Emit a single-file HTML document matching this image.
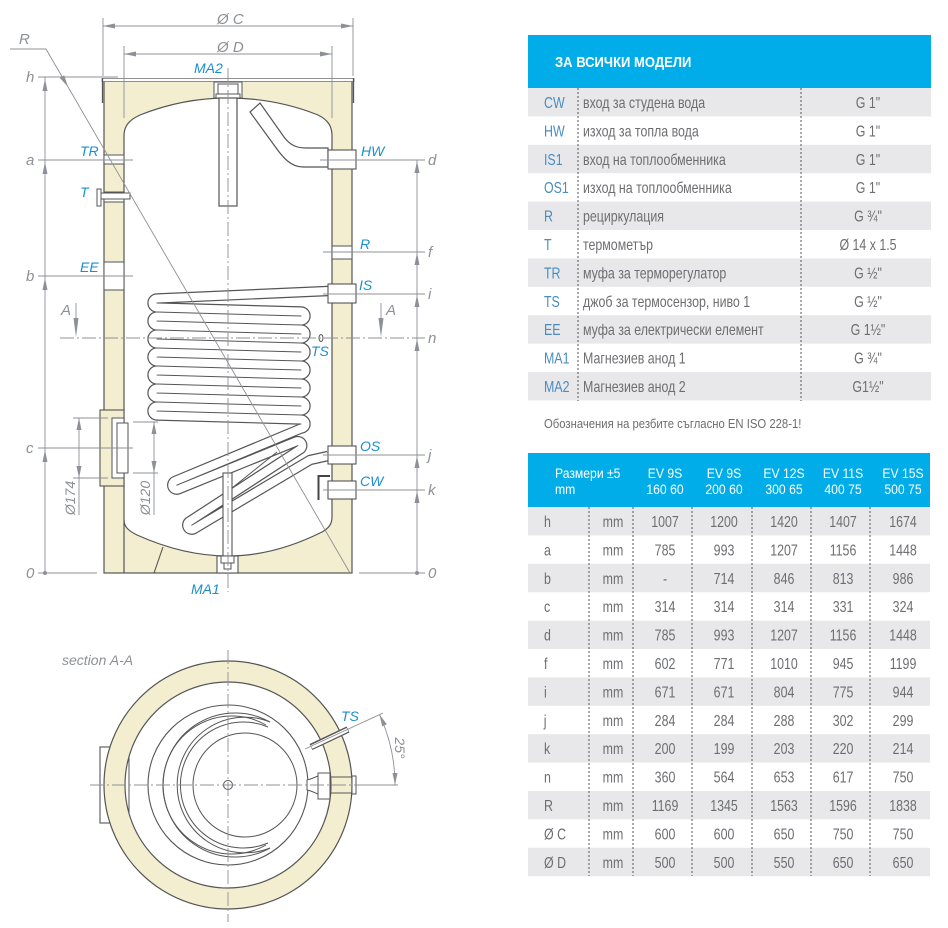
<!DOCTYPE html>
<html><head><meta charset="utf-8"><style>
html,body{margin:0;padding:0;background:#fff;}
svg{display:block;}
.lbl{font-family:"Liberation Sans",sans-serif;font-style:italic;font-size:14px;fill:#1a8fd0;}
.dim{font-family:"Liberation Sans",sans-serif;font-style:italic;font-size:15px;fill:#8d9096;}
.t{font-family:"Liberation Sans Narrow","Liberation Sans",sans-serif;font-size:15.5px;fill:#6d6e71;}
.c{font-family:"Liberation Sans Narrow","Liberation Sans",sans-serif;font-size:15.5px;fill:#4a8cc0;}
.h{font-family:"Liberation Sans Narrow","Liberation Sans",sans-serif;font-size:14px;fill:#fff;}
.sx text, text.sx{transform-box:fill-box;transform-origin:0 50%;transform:scaleX(.87);}
.sxm text{transform-box:fill-box;transform-origin:50% 50%;transform:scaleX(.87);}
.sx2 text{transform-box:fill-box;transform-origin:0 50%;transform:scaleX(.8);}
.sxm2 text{transform-box:fill-box;transform-origin:50% 50%;transform:scaleX(.8);}
</style></head><body>
<svg width="948" height="928" viewBox="0 0 948 928" xmlns="http://www.w3.org/2000/svg">
<!-- ================= FRONT VIEW ================= -->
<g stroke-linecap="butt">
<rect x="104" y="81" width="248" height="492" fill="#f3eed0" stroke="#555" stroke-width="1.2"/>
<rect x="102" y="78.5" width="252" height="3" fill="#fff" stroke="#777" stroke-width="0.8"/>
<line x1="102.5" y1="78" x2="102.5" y2="103" stroke="#555" stroke-width="1.3"/>
<line x1="353.5" y1="78" x2="353.5" y2="103" stroke="#555" stroke-width="1.3"/>
<path d="M124 520 L124 136 C124 126 129 120 140 115 C170 103 200 98 228 98 C256 98 288 103 318 115 C328 120 332 126 332 136 L332 517 C332 524 329 528 322 532 C292 547 260 556 228 556 C196 556 166 548 137 535 C129 531 124 527 124 520 Z" fill="#fff" stroke="#555" stroke-width="1.2"/>
<line x1="124" y1="520" x2="124" y2="573" stroke="#555" stroke-width="1.2"/>
<line x1="163" y1="547" x2="154" y2="573" stroke="#555" stroke-width="1.1"/>
<rect x="214" y="82" width="28" height="16" fill="#fff" stroke="#555" stroke-width="1"/>
<rect x="218" y="84" width="20" height="10" fill="#fff" stroke="#555" stroke-width="1"/>
<rect x="216" y="94" width="24" height="4" fill="#fff" stroke="#555" stroke-width="1"/>
<rect x="219" y="98" width="18" height="108" fill="#fff" stroke="#555" stroke-width="1.2"/>
<path d="M328 148 L306 148 C296 148 290 145 284 137 L260 103 L250 112 L274 145 C283 158 291 167 303 167 L328 167 Z" fill="#fff" stroke="#555" stroke-width="1.2"/>
<path d="M328 291 L157 298.5 A4.5 4.5 0 0 0 157 307.5 L301 311.5 A4.5 4.5 0 0 1 301 320.5 L157 316.5 A4.5 4.5 0 0 0 157 325.5 L301 329.5 A4.5 4.5 0 0 1 301 338.5 L157 334.5 A4.5 4.5 0 0 0 157 343.5 L301 347.5 A4.5 4.5 0 0 1 301 356.5 L157 352.5 A4.5 4.5 0 0 0 157 361.5 L301 365.5 A4.5 4.5 0 0 1 301 374.5 L157 370.5 A4.5 4.5 0 0 0 157 379.5 L301 383.5 A4.5 4.5 0 0 1 301 392.5 L157 388.5 A4.5 4.5 0 0 0 157 397.5 L301 401.5 A4.5 4.5 0 0 1 301 410.5 L157 406.5 A4.5 4.5 0 0 0 157 415.5 L301 419.5 A4.5 4.5 0 0 1 301 428.5 L175 481 A4.5 4.5 0 0 0 178.5 489.3 L296 441.5 A4.5 4.5 0 0 1 299.5 449.8 L190 521 A4.5 4.5 0 0 0 193.5 529.3 L310 460 L328 456" fill="none" stroke="#555" stroke-width="10.4" stroke-linejoin="round"/>
<path d="M328 291 L157 298.5 A4.5 4.5 0 0 0 157 307.5 L301 311.5 A4.5 4.5 0 0 1 301 320.5 L157 316.5 A4.5 4.5 0 0 0 157 325.5 L301 329.5 A4.5 4.5 0 0 1 301 338.5 L157 334.5 A4.5 4.5 0 0 0 157 343.5 L301 347.5 A4.5 4.5 0 0 1 301 356.5 L157 352.5 A4.5 4.5 0 0 0 157 361.5 L301 365.5 A4.5 4.5 0 0 1 301 374.5 L157 370.5 A4.5 4.5 0 0 0 157 379.5 L301 383.5 A4.5 4.5 0 0 1 301 392.5 L157 388.5 A4.5 4.5 0 0 0 157 397.5 L301 401.5 A4.5 4.5 0 0 1 301 410.5 L157 406.5 A4.5 4.5 0 0 0 157 415.5 L301 419.5 A4.5 4.5 0 0 1 301 428.5 L175 481 A4.5 4.5 0 0 0 178.5 489.3 L296 441.5 A4.5 4.5 0 0 1 299.5 449.8 L190 521 A4.5 4.5 0 0 0 193.5 529.3 L310 460 L328 456" fill="none" stroke="#fff" stroke-width="8" stroke-linejoin="round"/>
<line x1="277" y1="452" x2="232" y2="488" stroke="#555" stroke-width="1"/>
<rect x="223" y="473" width="9" height="83" fill="#fff" stroke="#555" stroke-width="1.1"/>
<rect x="217" y="556" width="21" height="17" fill="#fff" stroke="#555" stroke-width="1.1"/>
<rect x="221" y="556" width="13" height="7" fill="#fff" stroke="#555" stroke-width="1"/>
<rect x="224" y="563" width="7" height="6" fill="#fff" stroke="#555" stroke-width="1"/>
<rect x="104" y="155" width="20" height="9" fill="#fff" stroke="#555" stroke-width="1"/>
<rect x="104" y="192" width="20" height="10" fill="#fff" stroke="#555" stroke-width="1"/>
<rect x="101" y="193" width="29" height="6" fill="#fff" stroke="#555" stroke-width="1"/>
<rect x="97" y="189" width="4" height="17" fill="#fff" stroke="#555" stroke-width="1"/>
<rect x="104" y="262" width="20" height="28" fill="#fff" stroke="#555" stroke-width="1"/>
<rect x="100" y="410" width="24" height="76" fill="#f3eed0" stroke="#555" stroke-width="1.1"/>
<rect x="112" y="418" width="12" height="60" fill="#fff" stroke="#555" stroke-width="1"/>
<rect x="117" y="423" width="11" height="50" fill="#fff" stroke="#555" stroke-width="1"/>
<rect x="328" y="150" width="28" height="19" fill="#fff" stroke="#555" stroke-width="1.1"/>
<rect x="332" y="246" width="20" height="13" fill="#fff" stroke="#555" stroke-width="1"/>
<rect x="328" y="284" width="28" height="19" fill="#fff" stroke="#555" stroke-width="1.1"/>
<rect x="328" y="446" width="28" height="18" fill="#fff" stroke="#555" stroke-width="1.1"/>
<rect x="328" y="481" width="28" height="18" fill="#fff" stroke="#555" stroke-width="1.1"/>
<path d="M330 476 L318.5 476 L318.5 500" fill="none" stroke="#444" stroke-width="2"/>
<ellipse cx="321" cy="338" rx="2" ry="3.5" fill="#fff" stroke="#555" stroke-width="1"/>
</g>

<g stroke="#8d9096" stroke-width="0.9" fill="none">
<line x1="103" y1="18" x2="103" y2="76"/>
<line x1="353" y1="18" x2="353" y2="76"/>
<line x1="103" y1="26" x2="353" y2="26"/>
<line x1="124" y1="46" x2="124" y2="118"/>
<line x1="332" y1="46" x2="332" y2="118"/>
<line x1="124" y1="54" x2="332" y2="54"/>
<polyline points="10,49 46,49 350,573"/>
<line x1="45" y1="77" x2="45" y2="573"/>
<line x1="417" y1="160" x2="417" y2="573"/>
<line x1="38" y1="77" x2="118" y2="77"/>
<line x1="38" y1="160" x2="133" y2="160"/>
<line x1="38" y1="276" x2="133" y2="276"/>
<line x1="38" y1="448" x2="133" y2="448"/>
<line x1="38" y1="573" x2="97" y2="573"/>
<line x1="320" y1="160" x2="425" y2="160"/>
<line x1="323" y1="252" x2="425" y2="252"/>
<line x1="323" y1="294" x2="425" y2="294"/>
<line x1="323" y1="455" x2="425" y2="455"/>
<line x1="323" y1="490" x2="425" y2="490"/>
<line x1="359" y1="573" x2="425" y2="573"/>
<line x1="60" y1="338" x2="425" y2="338" stroke-dasharray="14 3 2 3"/>
<line x1="228" y1="68" x2="228" y2="592" stroke-dasharray="14 3 2 3"/>
<line x1="76" y1="303" x2="76" y2="325"/>
<line x1="381" y1="303" x2="381" y2="325"/>
<line x1="73" y1="418" x2="108" y2="418"/>
<line x1="73" y1="478" x2="108" y2="478"/>
<line x1="79" y1="418" x2="79" y2="515"/>
<line x1="133" y1="422" x2="158" y2="422"/>
<line x1="133" y1="473" x2="158" y2="473"/>
<line x1="154" y1="422" x2="154" y2="515"/>
</g>
<g fill="#8d9096">
<polygon points="103,26 115,23.5 115,28.5"/><polygon points="353,26 341,23.5 341,28.5"/>
<polygon points="124,54 136,51.5 136,56.5"/><polygon points="332,54 320,51.5 320,56.5"/>
<polygon points="68,87 64.2,75.3 59.8,77.9"/>
<polygon points="45,79 42.5,91 47.5,91"/><polygon points="45,162 42.5,174 47.5,174"/>
<polygon points="45,278 42.5,290 47.5,290"/><polygon points="45,450 42.5,462 47.5,462"/>
<circle cx="45" cy="573" r="2"/><circle cx="417" cy="573" r="2"/>
<polygon points="417,161 414.5,173 419.5,173"/><polygon points="417,253 414.5,265 419.5,265"/>
<polygon points="417,295 414.5,307 419.5,307"/><polygon points="417,339 414.5,351 419.5,351"/>
<polygon points="417,456 414.5,468 419.5,468"/><polygon points="417,491 414.5,503 419.5,503"/>
<polygon points="76,337 73.5,318 78.5,318"/><polygon points="381,337 378.5,318 383.5,318"/>
<polygon points="79,418 76.5,430 81.5,430"/><polygon points="79,478 76.5,466 81.5,466"/>
<polygon points="154,422 151.5,434 156.5,434"/><polygon points="154,473 151.5,461 156.5,461"/>
</g>
<g class="dim">
<text x="217" y="24">Ø C</text>
<text x="217" y="52">Ø D</text>
<text x="19" y="44">R</text>
<text x="26" y="82">h</text>
<text x="26" y="165">a</text>
<text x="26" y="281">b</text>
<text x="26" y="453">c</text>
<text x="26" y="578">0</text>
<text x="428" y="165">d</text>
<text x="428" y="257">f</text>
<text x="428" y="299">i</text>
<text x="428" y="343">n</text>
<text x="428" y="460">j</text>
<text x="428" y="495">k</text>
<text x="428" y="578">0</text>
<text x="61" y="315">A</text>
<text x="386" y="315">A</text>
<text transform="translate(75,498) rotate(-90)" text-anchor="middle" style="font-size:14px">Ø174</text>
<text transform="translate(150,498) rotate(-90)" text-anchor="middle" style="font-size:14px">Ø120</text>
</g>
<g class="lbl">
<text x="194" y="73">MA2</text>
<text x="80" y="156">TR</text>
<text x="80" y="197">T</text>
<text x="80" y="272">EE</text>
<text x="361" y="156">HW</text>
<text x="360" y="249">R</text>
<text x="359" y="290">IS</text>
<text x="311" y="356">TS</text>
<text x="360" y="451">OS</text>
<text x="360" y="486">CW</text>
<text x="191" y="594">MA1</text>
</g>

<!-- ================= SECTION A-A ================= -->
<text x="62" y="665" class="dim" style="font-size:14px">section A-A</text>
<rect x="100" y="747" width="28" height="76" fill="#fff" stroke="#555" stroke-width="1.1"/>
<circle cx="228" cy="785" r="124" fill="#f3eed0" stroke="#555" stroke-width="1.2"/>
<circle cx="228" cy="785" r="103" fill="#fff" stroke="#555" stroke-width="1.2"/>
<line x1="129" y1="757" x2="129" y2="813" stroke="#555" stroke-width="1"/>
<circle cx="228" cy="785" r="80" fill="none" stroke="#555" stroke-width="1.1"/>
<g fill="none" stroke="#555" stroke-width="1">
<path d="M270 722 A72 72 0 1 0 270 848"/>
<path d="M266 725 A69 69 0 1 0 266 845"/>
<path d="M270 722 A67.8 67.8 0 1 0 270 848"/>
<path d="M268 727 A63 63 0 1 0 268 843"/>
<circle cx="245" cy="785" r="52"/>
<circle cx="228" cy="785" r="4.5" fill="#fff"/>
</g>
<path d="M307 780 C312 779 315 777 318 776 L318 794 C315 793 312 791 307 790 Z" fill="#fff" stroke="#555" stroke-width="1"/>
<rect x="318" y="773" width="12" height="26" fill="#fff" stroke="#555" stroke-width="1"/>
<line x1="330" y1="777" x2="352" y2="777" stroke="#555" stroke-width="1"/>
<line x1="330" y1="793" x2="352" y2="793" stroke="#555" stroke-width="1"/>
<rect x="352" y="776" width="4" height="18" fill="#fff" stroke="#555" stroke-width="1"/>
<line x1="311" y1="747" x2="348" y2="729.5" stroke="#555" stroke-width="6.5"/>
<line x1="311.5" y1="747" x2="347.5" y2="729.8" stroke="#fff" stroke-width="4"/>
<g stroke="#8d9096" stroke-width="0.9" fill="none">
<line x1="90" y1="785" x2="365" y2="785" stroke-dasharray="14 3 2 3"/>
<line x1="228" y1="650" x2="228" y2="922" stroke-dasharray="14 3 2 3"/>
<line x1="360" y1="785" x2="398" y2="785"/>
<line x1="305" y1="749" x2="383" y2="713"/>
<path d="M395 785 A167 167 0 0 0 379.4 714.4"/>
</g>
<g fill="#8d9096">
<polygon points="395,785 392.5,773 397.5,773"/>
<polygon points="379.4,714.4 386.8,724.2 382.2,726.4"/>
</g>
<text class="lbl" x="341" y="721">TS</text>
<text class="dim" transform="translate(395,748) rotate(90)" text-anchor="middle" style="font-size:14px">25°</text>

<!-- ================= TABLE 1 ================= -->
<rect x="528" y="35" width="403" height="53" fill="#00ade9"/>
<text x="555" y="67" class="h sx" style="font-weight:bold;font-size:15px">ЗА ВСИЧКИ МОДЕЛИ</text>
<g fill="#e8e8ea">
<rect x="528" y="88" width="403" height="28.4"/>
<rect x="528" y="144.8" width="403" height="28.4"/>
<rect x="528" y="201.6" width="403" height="28.4"/>
<rect x="528" y="258.4" width="403" height="28.4"/>
<rect x="528" y="315.2" width="403" height="28.4"/>
<rect x="528" y="372" width="403" height="28.4"/>
</g>
<g stroke="#555" stroke-width="1" stroke-dasharray="2 2">
<line x1="578" y1="88" x2="578" y2="401"/>
<line x1="801" y1="88" x2="801" y2="401"/>
</g>
<g class="c sx2">
<text x="544" y="108">CW</text>
<text x="544" y="136.4">HW</text>
<text x="544" y="164.8">IS1</text>
<text x="544" y="193.2">OS1</text>
<text x="544" y="221.6">R</text>
<text x="544" y="250">T</text>
<text x="544" y="278.4">TR</text>
<text x="544" y="306.8">TS</text>
<text x="544" y="335.2">EE</text>
<text x="544" y="363.6">MA1</text>
<text x="544" y="392">MA2</text>
</g>
<g class="t sx2">
<text x="583" y="108">вход за студена вода</text>
<text x="583" y="136.4">изход за топла вода</text>
<text x="583" y="164.8">вход на топлообменника</text>
<text x="583" y="193.2">изход на топлообменника</text>
<text x="583" y="221.6">рециркулация</text>
<text x="583" y="250">термометър</text>
<text x="583" y="278.4">муфа за терморегулатор</text>
<text x="583" y="306.8">джоб за термосензор, ниво 1</text>
<text x="583" y="335.2">муфа за електрически елемент</text>
<text x="583" y="363.6">Магнезиев анод 1</text>
<text x="583" y="392">Магнезиев анод 2</text>
</g>
<g class="t sxm2" text-anchor="middle">
<text x="868" y="108">G 1"</text>
<text x="868" y="136.4">G 1"</text>
<text x="868" y="164.8">G 1"</text>
<text x="868" y="193.2">G 1"</text>
<text x="868" y="221.6">G ¾"</text>
<text x="868" y="250">Ø 14 x 1.5</text>
<text x="868" y="278.4">G ½"</text>
<text x="868" y="306.8">G ½"</text>
<text x="868" y="335.2">G 1½"</text>
<text x="868" y="363.6">G ¾"</text>
<text x="868" y="392">G1½"</text>
</g>
<text x="544" y="428" class="t sx" style="font-size:13px">Обозначения на резбите съгласно EN ISO 228-1!</text>

<!-- ================= TABLE 2 ================= -->
<rect x="528" y="453" width="402" height="54" fill="#00ade9"/>
<g class="h sx">
<text x="555" y="478">Размери ±5</text>
<text x="555" y="494">mm</text>
</g>
<g class="h sxm" text-anchor="middle">
<text x="665" y="478">EV 9S</text><text x="665" y="494">160 60</text>
<text x="724" y="478">EV 9S</text><text x="724" y="494">200 60</text>
<text x="784" y="478">EV 12S</text><text x="784" y="494">300 65</text>
<text x="843" y="478">EV 11S</text><text x="843" y="494">400 75</text>
<text x="903" y="478">EV 15S</text><text x="903" y="494">500 75</text>
</g>
<g fill="#e8e8ea">
<rect x="528" y="507" width="402" height="28.4"/>
<rect x="528" y="563.8" width="402" height="28.4"/>
<rect x="528" y="620.6" width="402" height="28.4"/>
<rect x="528" y="677.4" width="402" height="28.4"/>
<rect x="528" y="734.2" width="402" height="28.4"/>
<rect x="528" y="791" width="402" height="28.4"/>
<rect x="528" y="847.8" width="402" height="28.4"/>
</g>
<g stroke="#555" stroke-width="1" stroke-dasharray="2 2">
<line x1="589" y1="507" x2="589" y2="876"/>
<line x1="633" y1="507" x2="633" y2="876"/>
<line x1="692" y1="507" x2="692" y2="876"/>
<line x1="752" y1="507" x2="752" y2="876"/>
<line x1="811" y1="507" x2="811" y2="876"/>
<line x1="870" y1="507" x2="870" y2="876"/>
</g>
<g class="t sx2">
<text x="544" y="527">h</text>
<text x="544" y="555.4">a</text>
<text x="544" y="583.8">b</text>
<text x="544" y="612.2">c</text>
<text x="544" y="640.6">d</text>
<text x="544" y="669">f</text>
<text x="544" y="697.4">i</text>
<text x="544" y="725.8">j</text>
<text x="544" y="754.2">k</text>
<text x="544" y="782.6">n</text>
<text x="544" y="811">R</text>
<text x="544" y="839.4">Ø C</text>
<text x="544" y="867.8">Ø D</text>
</g>
<g class="t sxm2" text-anchor="middle">
<text x="613" y="527">mm</text><text x="665" y="527">1007</text><text x="724" y="527">1200</text><text x="784" y="527">1420</text><text x="843" y="527">1407</text><text x="903" y="527">1674</text>
<text x="613" y="555.4">mm</text><text x="665" y="555.4">785</text><text x="724" y="555.4">993</text><text x="784" y="555.4">1207</text><text x="843" y="555.4">1156</text><text x="903" y="555.4">1448</text>
<text x="613" y="583.8">mm</text><text x="665" y="583.8">-</text><text x="724" y="583.8">714</text><text x="784" y="583.8">846</text><text x="843" y="583.8">813</text><text x="903" y="583.8">986</text>
<text x="613" y="612.2">mm</text><text x="665" y="612.2">314</text><text x="724" y="612.2">314</text><text x="784" y="612.2">314</text><text x="843" y="612.2">331</text><text x="903" y="612.2">324</text>
<text x="613" y="640.6">mm</text><text x="665" y="640.6">785</text><text x="724" y="640.6">993</text><text x="784" y="640.6">1207</text><text x="843" y="640.6">1156</text><text x="903" y="640.6">1448</text>
<text x="613" y="669">mm</text><text x="665" y="669">602</text><text x="724" y="669">771</text><text x="784" y="669">1010</text><text x="843" y="669">945</text><text x="903" y="669">1199</text>
<text x="613" y="697.4">mm</text><text x="665" y="697.4">671</text><text x="724" y="697.4">671</text><text x="784" y="697.4">804</text><text x="843" y="697.4">775</text><text x="903" y="697.4">944</text>
<text x="613" y="725.8">mm</text><text x="665" y="725.8">284</text><text x="724" y="725.8">284</text><text x="784" y="725.8">288</text><text x="843" y="725.8">302</text><text x="903" y="725.8">299</text>
<text x="613" y="754.2">mm</text><text x="665" y="754.2">200</text><text x="724" y="754.2">199</text><text x="784" y="754.2">203</text><text x="843" y="754.2">220</text><text x="903" y="754.2">214</text>
<text x="613" y="782.6">mm</text><text x="665" y="782.6">360</text><text x="724" y="782.6">564</text><text x="784" y="782.6">653</text><text x="843" y="782.6">617</text><text x="903" y="782.6">750</text>
<text x="613" y="811">mm</text><text x="665" y="811">1169</text><text x="724" y="811">1345</text><text x="784" y="811">1563</text><text x="843" y="811">1596</text><text x="903" y="811">1838</text>
<text x="613" y="839.4">mm</text><text x="665" y="839.4">600</text><text x="724" y="839.4">600</text><text x="784" y="839.4">650</text><text x="843" y="839.4">750</text><text x="903" y="839.4">750</text>
<text x="613" y="867.8">mm</text><text x="665" y="867.8">500</text><text x="724" y="867.8">500</text><text x="784" y="867.8">550</text><text x="843" y="867.8">650</text><text x="903" y="867.8">650</text>
</g>
</svg>
</body></html>
